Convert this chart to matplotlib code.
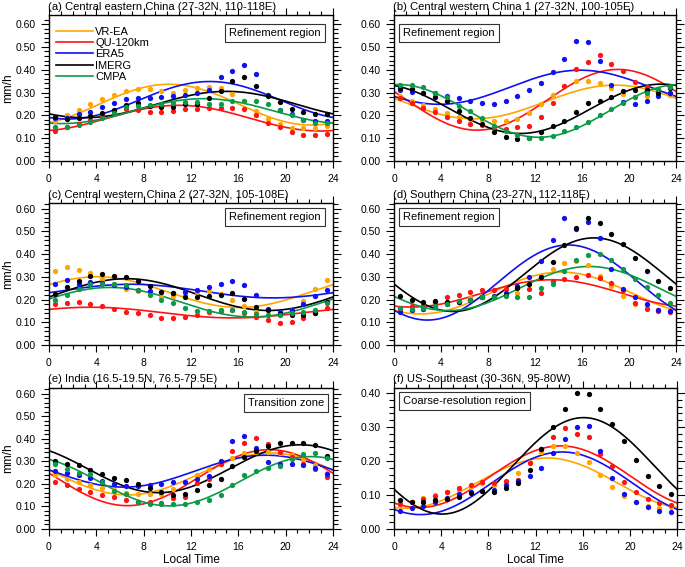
# plot.py
# Diurnal cycle of precipitation in six regions: hourly dots and first-harmonic fits.

import numpy as np
import matplotlib
matplotlib.use("Agg")
import matplotlib.pyplot as plt
from matplotlib.lines import Line2D

plt.rcParams['font.family'] = ['Liberation Sans', 'DejaVu Sans']

# Local hour of each dot
hours = np.arange(24) + 0.5

series_names = ['VR-EA', 'QU-120km', 'ERA5', 'IMERG', 'CMPA']
series_colors = ['#ffa500', '#ff1414', '#1010f0', '#000000', '#0b9a48']

# (a) Central eastern China
a_vrea = [0.175, 0.20, 0.225, 0.25, 0.27, 0.29, 0.305, 0.315, 0.315, 0.305, 0.30, 0.31,
          0.32, 0.325, 0.318, 0.292, 0.262, 0.218, 0.184, 0.16, 0.145, 0.143, 0.143, 0.155]
a_qu = [0.133, 0.148, 0.16, 0.18, 0.20, 0.22, 0.228, 0.225, 0.213, 0.213, 0.22, 0.23,
        0.23, 0.233, 0.232, 0.232, 0.226, 0.202, 0.165, 0.148, 0.125, 0.115, 0.112, 0.118]
a_era5 = [0.19, 0.19, 0.205, 0.215, 0.236, 0.255, 0.27, 0.276, 0.277, 0.279, 0.283, 0.29,
          0.30, 0.31, 0.37, 0.395, 0.42, 0.383, 0.29, 0.223, 0.204, 0.181, 0.174, 0.174]
a_imerg = [0.193, 0.185, 0.188, 0.197, 0.21, 0.225, 0.245, 0.255, 0.24, 0.236, 0.238, 0.25,
           0.25, 0.275, 0.305, 0.35, 0.368, 0.33, 0.285, 0.26, 0.23, 0.215, 0.205, 0.205]
a_cmpa = [0.15, 0.15, 0.158, 0.17, 0.19, 0.21, 0.235, 0.24, 0.245, 0.25, 0.255, 0.26,
          0.26, 0.25, 0.25, 0.262, 0.265, 0.265, 0.248, 0.225, 0.20, 0.18, 0.165, 0.165]

# (b) Central western China 1
b_vrea = [0.285, 0.265, 0.245, 0.23, 0.21, 0.195, 0.185, 0.18, 0.175, 0.175, 0.185, 0.21,
          0.25, 0.29, 0.33, 0.35, 0.35, 0.34, 0.32, 0.295, 0.28, 0.285, 0.29, 0.29]
b_qu = [0.275, 0.255, 0.232, 0.213, 0.192, 0.177, 0.162, 0.157, 0.15, 0.142, 0.15, 0.153,
        0.195, 0.254, 0.33, 0.405, 0.432, 0.466, 0.425, 0.395, 0.345, 0.325, 0.31, 0.30]
b_era5 = [0.31, 0.302, 0.30, 0.30, 0.286, 0.275, 0.263, 0.253, 0.252, 0.262, 0.287, 0.312,
          0.342, 0.392, 0.445, 0.525, 0.52, 0.44, 0.333, 0.26, 0.25, 0.265, 0.285, 0.30]
b_imerg = [0.32, 0.315, 0.30, 0.282, 0.262, 0.22, 0.19, 0.16, 0.128, 0.105, 0.095, 0.10,
           0.125, 0.152, 0.177, 0.214, 0.255, 0.265, 0.28, 0.305, 0.31, 0.31, 0.30, 0.32]
b_cmpa = [0.335, 0.333, 0.325, 0.30, 0.28, 0.24, 0.218, 0.19, 0.152, 0.13, 0.112, 0.10,
          0.10, 0.11, 0.13, 0.147, 0.17, 0.20, 0.226, 0.255, 0.28, 0.30, 0.315, 0.325]

# (c) Central western China 2
c_vrea = [0.325, 0.344, 0.329, 0.319, 0.292, 0.27, 0.248, 0.236, 0.226, 0.211, 0.215, 0.221,
          0.233, 0.236, 0.226, 0.196, 0.17, 0.145, 0.13, 0.133, 0.155, 0.195, 0.246, 0.286]
c_qu = [0.18, 0.187, 0.189, 0.181, 0.173, 0.159, 0.147, 0.143, 0.133, 0.12, 0.118, 0.122,
        0.131, 0.145, 0.15, 0.155, 0.14, 0.125, 0.108, 0.096, 0.10, 0.118, 0.143, 0.162]
c_era5 = [0.268, 0.286, 0.27, 0.276, 0.271, 0.265, 0.255, 0.243, 0.238, 0.233, 0.23, 0.235,
          0.24, 0.255, 0.268, 0.28, 0.265, 0.221, 0.16, 0.146, 0.155, 0.18, 0.214, 0.242]
c_imerg = [0.225, 0.255, 0.283, 0.305, 0.313, 0.305, 0.30, 0.28, 0.258, 0.233, 0.228, 0.21,
           0.21, 0.214, 0.222, 0.23, 0.203, 0.167, 0.155, 0.135, 0.13, 0.13, 0.143, 0.19]
c_cmpa = [0.20, 0.22, 0.248, 0.27, 0.27, 0.268, 0.262, 0.24, 0.22, 0.198, 0.185, 0.162,
          0.15, 0.148, 0.156, 0.156, 0.145, 0.135, 0.13, 0.133, 0.14, 0.145, 0.155, 0.185]

# (d) Southern China
d_vrea = [0.145, 0.15, 0.16, 0.17, 0.18, 0.19, 0.205, 0.21, 0.21, 0.215, 0.23, 0.27,
          0.305, 0.335, 0.36, 0.37, 0.35, 0.305, 0.26, 0.215, 0.18, 0.17, 0.155, 0.15]
d_qu = [0.16, 0.17, 0.175, 0.19, 0.21, 0.222, 0.235, 0.24, 0.243, 0.245, 0.255, 0.245,
        0.23, 0.28, 0.29, 0.30, 0.31, 0.295, 0.275, 0.24, 0.185, 0.16, 0.15, 0.145]
d_era5 = [0.145, 0.155, 0.16, 0.17, 0.18, 0.19, 0.20, 0.21, 0.215, 0.23, 0.26, 0.30,
          0.37, 0.46, 0.56, 0.51, 0.54, 0.47, 0.335, 0.245, 0.21, 0.18, 0.155, 0.15]
d_imerg = [0.215, 0.198, 0.19, 0.195, 0.19, 0.19, 0.20, 0.21, 0.21, 0.22, 0.25, 0.27,
           0.30, 0.366, 0.44, 0.515, 0.56, 0.535, 0.488, 0.445, 0.385, 0.325, 0.28, 0.253]
d_cmpa = [0.165, 0.16, 0.165, 0.17, 0.18, 0.195, 0.20, 0.21, 0.21, 0.215, 0.21, 0.21,
          0.25, 0.27, 0.325, 0.375, 0.395, 0.40, 0.373, 0.335, 0.29, 0.255, 0.22, 0.185]

# (e) India
e_vrea = [0.24, 0.22, 0.207, 0.195, 0.182, 0.172, 0.16, 0.155, 0.153, 0.153, 0.178, 0.21,
          0.24, 0.265, 0.288, 0.315, 0.337, 0.342, 0.34, 0.338, 0.327, 0.308, 0.283, 0.25]
e_qu = [0.207, 0.193, 0.177, 0.165, 0.15, 0.142, 0.128, 0.12, 0.118, 0.115, 0.139, 0.143,
        0.204, 0.22, 0.29, 0.345, 0.38, 0.403, 0.378, 0.34, 0.32, 0.29, 0.265, 0.23]
e_era5 = [0.258, 0.25, 0.239, 0.224, 0.212, 0.20, 0.192, 0.19, 0.193, 0.198, 0.207, 0.21,
          0.22, 0.235, 0.302, 0.39, 0.413, 0.357, 0.295, 0.286, 0.288, 0.283, 0.27, 0.242]
e_imerg = [0.30, 0.286, 0.283, 0.26, 0.242, 0.225, 0.216, 0.20, 0.18, 0.165, 0.15, 0.155,
           0.175, 0.195, 0.222, 0.278, 0.32, 0.345, 0.368, 0.383, 0.383, 0.383, 0.373, 0.324]
e_cmpa = [0.29, 0.267, 0.25, 0.243, 0.21, 0.17, 0.155, 0.12, 0.113, 0.109, 0.109, 0.113,
          0.12, 0.13, 0.15, 0.195, 0.24, 0.257, 0.27, 0.28, 0.31, 0.332, 0.335, 0.313]

# (f) US-Southeast (no CMPA)
f_vrea = [0.074, 0.08, 0.09, 0.10, 0.109, 0.116, 0.125, 0.135, 0.13, 0.135, 0.164, 0.196,
          0.226, 0.244, 0.243, 0.223, 0.196, 0.159, 0.124, 0.096, 0.08, 0.068, 0.063, 0.064]
f_qu = [0.075, 0.08, 0.088, 0.098, 0.108, 0.12, 0.13, 0.138, 0.135, 0.14, 0.145, 0.194,
        0.236, 0.27, 0.297, 0.28, 0.272, 0.222, 0.185, 0.138, 0.108, 0.087, 0.076, 0.071]
f_era5 = [0.054, 0.063, 0.068, 0.08, 0.09, 0.103, 0.108, 0.113, 0.116, 0.13, 0.14, 0.156,
          0.181, 0.225, 0.264, 0.30, 0.304, 0.231, 0.15, 0.104, 0.08, 0.064, 0.054, 0.051]
f_imerg = [0.085, 0.079, 0.078, 0.084, 0.088, 0.093, 0.105, 0.111, 0.11, 0.12, 0.134, 0.174,
           0.235, 0.30, 0.354, 0.40, 0.398, 0.352, 0.31, 0.26, 0.203, 0.157, 0.128, 0.103]

titles = ['(a) Central eastern China (27-32N, 110-118E)',
          '(b) Central western China 1 (27-32N, 100-105E)',
          '(c) Central western China 2 (27-32N, 105-108E)',
          '(d) Southern China (23-27N, 112-118E)',
          '(e) India (16.5-19.5N, 76.5-79.5E)',
          '(f) US-Southeast (30-36N, 95-80W)']
box_texts = ['Refinement region', 'Refinement region', 'Refinement region',
             'Refinement region', 'Transition zone', 'Coarse-resolution region']

panel_data = [
    [a_vrea, a_qu, a_era5, a_imerg, a_cmpa],
    [b_vrea, b_qu, b_era5, b_imerg, b_cmpa],
    [c_vrea, c_qu, c_era5, c_imerg, c_cmpa],
    [d_vrea, d_qu, d_era5, d_imerg, d_cmpa],
    [e_vrea, e_qu, e_era5, e_imerg, e_cmpa],
    [f_vrea, f_qu, f_era5, f_imerg],
]


# First-harmonic (24 h) least-squares fit of the hourly values
def harmonic_fit(vals):
    w = 2 * np.pi * hours / 24
    A = np.column_stack([np.ones_like(w), np.cos(w), np.sin(w)])
    coef = np.linalg.lstsq(A, np.asarray(vals), rcond=None)[0]
    t = np.linspace(0, 24, 241)
    wt = 2 * np.pi * t / 24
    return t, coef[0] + coef[1] * np.cos(wt) + coef[2] * np.sin(wt)


W, H = 685, 567
fig = plt.figure(figsize=(W / 100, H / 100), dpi=100)

# axes boxes in pixels: left, right, top, bottom
boxes = [(49, 333, 15, 161), (394, 676, 15, 161),
         (49, 333, 203, 345), (394, 676, 203, 345),
         (49, 333, 388, 529), (394, 677, 388, 529)]
ymaxes = [0.64, 0.64, 0.625, 0.625, 0.625, 0.415]
box_right = [True, False, True, False, True, False]
box_offsets = [(-12, -13), (9, -13), (-12, -9), (9, -9), (-9, -10), (9, -8)]

for i, (l, r, t, b) in enumerate(boxes):
    ax = fig.add_axes([l / W, 1 - b / H, (r - l) / W, (b - t) / H])

    for vals, name, col in zip(panel_data[i], series_names, series_colors):
        tt, fit = harmonic_fit(vals)
        ax.plot(tt, fit, color=col, lw=1.2, zorder=2)
    for vals, name, col in zip(panel_data[i], series_names, series_colors):
        ax.plot(hours, vals, 'o', color=col, ms=3.8, mec='none', zorder=3)

    ax.set_xlim(0, 24)
    ax.set_ylim(0, ymaxes[i])
    ax.set_xticks(np.arange(0, 25, 4))
    ax.set_xticks(np.arange(0, 25, 1), minor=True)
    if i < 5:
        ax.set_yticks(np.arange(0, 0.61, 0.1))
        ax.set_yticks(np.arange(0, 0.63, 0.02), minor=True)
    else:
        ax.set_yticks(np.arange(0, 0.41, 0.1))
        ax.set_yticks(np.arange(0, 0.415, 0.02), minor=True)
    ax.yaxis.set_major_formatter(matplotlib.ticker.FormatStrFormatter('%.2f'))
    ax.tick_params(which='both', direction='out', top=True, right=True,
                   labelsize=7.5, width=0.8)
    ax.tick_params(axis='x', which='major', length=5, pad=4.5)
    ax.tick_params(axis='x', which='minor', length=3)
    ax.tick_params(axis='y', which='major', length=6, pad=3.5)
    ax.tick_params(axis='y', which='minor', length=3.5)
    for sp in ax.spines.values():
        sp.set_linewidth(1.0)

    # title placed just above the outward top ticks
    ax.text(-0.003, 1 + 3.5 / (b - t), titles[i], transform=ax.transAxes,
            ha='left', va='bottom', fontsize=8.1)

    if i % 2 == 0:
        ax.set_ylabel('mm/h', fontsize=8.5, labelpad=1)
    if i >= 4:
        ax.set_xlabel('Local Time', fontsize=8.5, labelpad=1)

    if box_right[i]:
        xy, ha = (1, 1), 'right'
    else:
        xy, ha = (0, 1), 'left'
    ax.annotate(box_texts[i], xy=xy, xycoords='axes fraction',
                xytext=box_offsets[i], textcoords='offset pixels',
                ha=ha, va='top', fontsize=8,
                bbox=dict(boxstyle='square,pad=0.35', fc='white', ec='#333333', lw=0.8))

    if i == 0:
        handles = [Line2D([], [], color=c, lw=1.2) for c in series_colors]
        ax.legend(handles, series_names, loc='upper left',
                  bbox_to_anchor=(0.0, 1.0 - 5 / (b - t)),
                  frameon=False, fontsize=8, handlelength=3.4, handletextpad=0.15,
                  labelspacing=0.12, borderaxespad=0.3, borderpad=0.3)

fig.savefig('out.png', dpi=100)
